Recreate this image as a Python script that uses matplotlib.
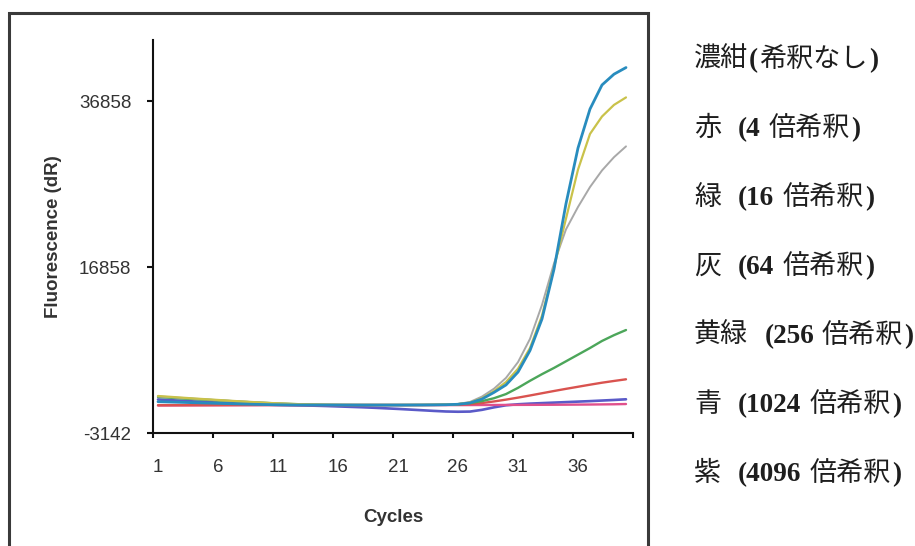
import matplotlib
matplotlib.use("Agg")
import matplotlib.pyplot as plt
from matplotlib.patches import Rectangle
from matplotlib.font_manager import FontProperties

# ---------------- data ----------------
cycles = list(range(1, 41))

teal = [630, 590, 550, 510, 470, 430, 390, 350, 315, 285,
        260, 240, 230, 225, 225, 225, 225, 225, 225, 225,
        225, 230, 235, 245, 265, 320, 480, 950, 1750, 2650,
        4200, 6800, 10600, 16600, 24500, 31200, 35900, 38800, 40100, 40900]
yellow = [1320, 1220, 1120, 1020, 930, 840, 750, 660, 580, 500,
          430, 370, 320, 280, 255, 240, 235, 230, 230, 230,
          230, 232, 238, 250, 275, 340, 520, 1050, 1900, 3000,
          4600, 7100, 11000, 16800, 22700, 28600, 32900, 35000, 36400, 37300]
gray = [1270, 1180, 1090, 1000, 910, 820, 735, 650, 570, 495,
        425, 365, 315, 278, 255, 242, 236, 232, 230, 230,
        230, 233, 240, 255, 285, 360, 600, 1250, 2200, 3500,
        5400, 8200, 12300, 17300, 21400, 24100, 26500, 28500, 30100, 31400]
green = [1200, 1110, 1020, 940, 860, 780, 700, 620, 550, 480,
         415, 360, 315, 280, 258, 245, 238, 234, 232, 232,
         232, 234, 240, 250, 270, 330, 470, 700, 1050, 1550,
         2300, 3150, 3950, 4700, 5500, 6300, 7100, 7950, 8650, 9270]
red = [210, 212, 215, 218, 220, 222, 225, 227, 230, 232,
       234, 235, 236, 236, 236, 236, 236, 236, 236, 236,
       236, 237, 238, 242, 250, 270, 340, 470, 660, 880,
       1120, 1380, 1650, 1920, 2180, 2430, 2680, 2920, 3130, 3330]
purple = [900, 820, 740, 660, 590, 520, 450, 390, 330, 280,
          240, 210, 180, 150, 110, 60, 10, -40, -100, -170,
          -240, -320, -400, -480, -550, -580, -560, -350, -50, 200,
          320, 400, 460, 520, 580, 640, 700, 770, 840, 920]
pink = [170, 175, 180, 185, 190, 195, 200, 205, 210, 215,
        220, 220, 220, 220, 220, 220, 220, 220, 220, 220,
        220, 220, 220, 220, 220, 220, 225, 230, 235, 240,
        245, 250, 255, 262, 270, 280, 290, 305, 320, 350]

y_tick_values = [-3142, 16858, 36858]
x_tick_labels = [1, 6, 11, 16, 21, 26, 31, 36]

legend_lines = [
    [("濃紺", "cjk", 1), ("(", "serif", 1), ("希釈なし", "cjk", 1), (")", "serif", 0)],
    [("赤", "cjk", 17), ("(4", "serif", 8), ("倍希釈", "cjk", 1), (")", "serif", 0)],
    [("緑", "cjk", 17), ("(16", "serif", 8), ("倍希釈", "cjk", 1), (")", "serif", 0)],
    [("灰", "cjk", 17), ("(64", "serif", 8), ("倍希釈", "cjk", 1), (")", "serif", 0)],
    [("黄緑", "cjk", 16), ("(256", "serif", 8), ("倍希釈", "cjk", 1), (")", "serif", 0)],
    [("青", "cjk", 17), ("(1024", "serif", 8), ("倍希釈", "cjk", 1), (")", "serif", 0)],
    [("紫", "cjk", 17), ("(4096", "serif", 8), ("倍希釈", "cjk", 1), (")", "serif", 0)],
]

# ---------------- figure ----------------
W, H = 915, 546
fig = plt.figure(figsize=(W / 100, H / 100), dpi=100)
fig.patch.set_facecolor("white")

# outer frame around the chart panel
frame = Rectangle((9 / W, -0.05), (648 - 9) / W, 0.05 + (H - 13) / H,
                  transform=fig.transFigure, fill=False,
                  edgecolor="#3a3a3a", linewidth=2.2, clip_on=False)
fig.patches.append(frame)

ax_left, ax_right, ax_top, ax_bottom = 153, 633, 40, 433
ax = fig.add_axes([ax_left / W, (H - ax_bottom) / H,
                   (ax_right - ax_left) / W, (ax_bottom - ax_top) / H])

series = [
    (purple, "#5A5AC8", 1.9),
    (pink, "#E0508C", 1.7),
    (red, "#D9534F", 1.7),
    (green, "#4CA65A", 1.7),
    (gray, "#A8A8A8", 1.4),
    (yellow, "#C9C24A", 1.6),
    (teal, "#288CBE", 2.0),
]
for vals, col, lw in series:
    ax.plot(cycles, vals, color=col, lw=lw, solid_capstyle="round",
            solid_joinstyle="round")

offset = 5 / 12.0
ax.set_xlim(1 - offset, 41 - offset)
ax.set_ylim(-3142, 44220)

for side in ("top", "right"):
    ax.spines[side].set_visible(False)
for side in ("left", "bottom"):
    ax.spines[side].set_linewidth(1.5)
    ax.spines[side].set_color("#111111")

# x ticks: marks slightly left of data positions, labels at the cycle numbers
ax.set_xticks([t - offset for t in x_tick_labels + [41]])
ax.set_xticklabels([""] * (len(x_tick_labels) + 1))
ax.set_xticks(x_tick_labels, minor=True)
ax.set_xticklabels([str(v) for v in x_tick_labels], minor=True)
ax.tick_params(axis="x", which="major", direction="out", length=3.5, width=1.5, color="#111111")
ax.tick_params(axis="x", which="minor", length=0, pad=19, labelsize=13.5, labelcolor="#333333")

ax.set_yticks(y_tick_values)
ax.set_yticklabels([str(v) for v in y_tick_values])
ax.tick_params(axis="y", direction="out", length=4.5, width=1.5, color="#111111",
               pad=11, labelsize=13.5, labelcolor="#333333")
for lab in ax.get_xticklabels(minor=True) + ax.get_yticklabels():
    lab.set_family("Liberation Sans")

ax.set_ylabel("Fluorescence (dR)", fontsize=13.5, fontweight="bold",
              family="Liberation Sans", color="#333333")
ax.yaxis.set_label_coords(-0.19, 0.5)
ax.set_xlabel("Cycles", fontsize=13.5, fontweight="bold",
              family="Liberation Sans", color="#333333")
ax.xaxis.set_label_coords(0.5, -0.193)

# ---------------- right-hand text ----------------
cjk_fp = FontProperties(family="Noto Sans CJK JP", size=19.5)
serif_fp = FontProperties(family="Liberation Serif", weight="bold", size=19.5)
renderer = fig.canvas.get_renderer()

line_centers = [57, 126, 195, 264, 333, 402, 471]
x_start = 694
for segs, yc in zip(legend_lines, line_centers):
    x = x_start
    y_base = yc + 10
    for txt, kind, gap in segs:
        fp = cjk_fp if kind == "cjk" else serif_fp
        t = fig.text(x / W, 1 - y_base / H, txt, fontproperties=fp,
                     ha="left", va="baseline", color="#1e1e1e")
        bb = t.get_window_extent(renderer=renderer)
        x += bb.width + gap

fig.savefig("out.png", dpi=100, facecolor="white")
